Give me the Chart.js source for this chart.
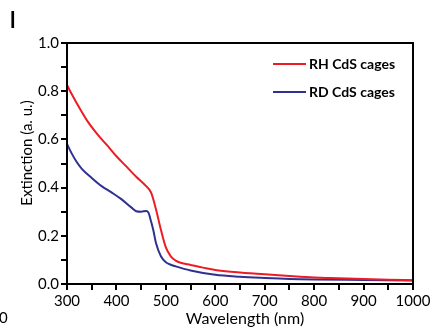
<!DOCTYPE html>
<html>
<head>
<meta charset="utf-8">
<script src="https://cdn.jsdelivr.net/npm/chart.js@4.4.1/dist/chart.umd.min.js"></script>
<style>
  html, body { margin: 0; padding: 0; background: #fff; }
  #wrap { position: relative; width: 435px; height: 327px; }
</style>
</head>
<body>
<div id="wrap"><canvas id="chart" width="435" height="327"></canvas></div>
<script>
// RH CdS cages (red)
const rhWavelength = [300, 310, 320, 340, 360, 380, 400, 420, 440, 460, 470, 480, 490, 500, 510, 520, 530, 550, 575, 600, 650, 700, 750, 800, 850, 900, 950, 1000];
const rhExtinction = [0.826, 0.786, 0.749, 0.680, 0.625, 0.578, 0.530, 0.488, 0.445, 0.406, 0.380, 0.310, 0.225, 0.152, 0.115, 0.097, 0.088, 0.079, 0.068, 0.058, 0.048, 0.040, 0.033, 0.027, 0.024, 0.021, 0.018, 0.016];

// RD CdS cages (blue)
const rdWavelength = [300, 310, 320, 330, 350, 370, 390, 410, 430, 440, 450, 460, 465, 470, 475, 480, 490, 500, 510, 520, 550, 600, 650, 700, 750, 800, 900, 1000];
const rdExtinction = [0.581, 0.540, 0.505, 0.478, 0.440, 0.406, 0.380, 0.352, 0.318, 0.302, 0.300, 0.303, 0.295, 0.260, 0.220, 0.170, 0.115, 0.090, 0.080, 0.073, 0.056, 0.038, 0.030, 0.025, 0.021, 0.019, 0.017, 0.015];

const seriesNames = ["RH CdS cages", "RD CdS cages"];
const seriesColors = ["#ed1c24", "#2e3192"];

const xTitle = "Wavelength (nm)";
const yTitle = "Extinction (a. u.)";
const panelLabel = "l";

const FONT = "Lato, 'Open Sans', sans-serif";

function toPoints(xs, ys) {
  return xs.map((x, i) => ({ x: x, y: ys[i] }));
}

// frame, legend, axis titles and extra labels
const decorPlugin = {
  id: "decor",
  afterDraw(chart) {
    const ctx = chart.ctx;
    const a = chart.chartArea;
    ctx.save();
    ctx.strokeStyle = "#000";
    ctx.lineWidth = 2;
    ctx.strokeRect(a.left, a.top, a.right - a.left, a.bottom - a.top);

    // legend
    ctx.font = "bold 14px " + FONT;
    ctx.textBaseline = "middle";
    ctx.textAlign = "left";
    const ly = [64, 92];
    chart.data.datasets.forEach((ds, i) => {
      ctx.strokeStyle = ds.borderColor;
      ctx.lineWidth = 2;
      ctx.beginPath();
      ctx.moveTo(273, ly[i]);
      ctx.lineTo(306, ly[i]);
      ctx.stroke();
      ctx.fillStyle = "#000";
      ctx.fillText(ds.label, 309, ly[i]);
    });

    // axis titles
    ctx.fillStyle = "#000";
    ctx.textBaseline = "alphabetic";
    ctx.textAlign = "center";
    ctx.font = "16px " + FONT;
    ctx.fillText(xTitle, 245, 324);

    ctx.save();
    ctx.translate(32, 153);
    ctx.rotate(-Math.PI / 2);
    ctx.font = "15px " + FONT;
    ctx.fillText(yTitle, 0, 0);
    ctx.restore();

    // panel letter
    ctx.textAlign = "left";
    ctx.font = "bold 22px " + FONT;
    ctx.fillText(panelLabel, 10, 28);

    // clipped label from neighbouring panel
    ctx.font = "15px " + FONT;
    ctx.fillText("0", -1, 323);
    ctx.restore();
  }
};

new Chart(document.getElementById("chart"), {
  type: "line",
  data: {
    datasets: [
      {
        label: seriesNames[0],
        data: toPoints(rhWavelength, rhExtinction),
        borderColor: seriesColors[0],
        borderWidth: 2,
        pointRadius: 0,
        fill: false,
        cubicInterpolationMode: "monotone"
      },
      {
        label: seriesNames[1],
        data: toPoints(rdWavelength, rdExtinction),
        borderColor: seriesColors[1],
        borderWidth: 2,
        pointRadius: 0,
        fill: false,
        cubicInterpolationMode: "monotone"
      }
    ]
  },
  options: {
    responsive: false,
    animation: false,
    layout: { padding: { top: 43, right: 22, left: 0, bottom: 0 } },
    plugins: {
      legend: { display: false },
      tooltip: { enabled: false }
    },
    scales: {
      x: {
        type: "linear",
        min: 300,
        max: 1000,
        border: { display: true, color: "#000", width: 2 },
        grid: { drawOnChartArea: false, color: "#000", lineWidth: 2, tickLength: 6 },
        ticks: {
          stepSize: 50,
          color: "#000",
          font: { family: FONT, size: 15 },
          padding: 2,
          maxRotation: 0,
          autoSkip: false,
          callback: v => (v % 100 === 0 ? String(v) : "")
        },
        afterFit: s => { s.height = 43; }
      },
      y: {
        min: 0,
        max: 1.0,
        border: { display: true, color: "#000", width: 2 },
        grid: { drawOnChartArea: false, color: "#000", lineWidth: 2, tickLength: 6 },
        ticks: {
          stepSize: 0.1,
          color: "#000",
          font: { family: FONT, size: 15 },
          padding: 2,
          autoSkip: false,
          callback: v => (Math.round(v * 10) % 2 === 0 ? v.toFixed(1) : "")
        },
        afterFit: s => { s.width = 67; }
      }
    }
  },
  plugins: [decorPlugin]
});
</script>
</body>
</html>
